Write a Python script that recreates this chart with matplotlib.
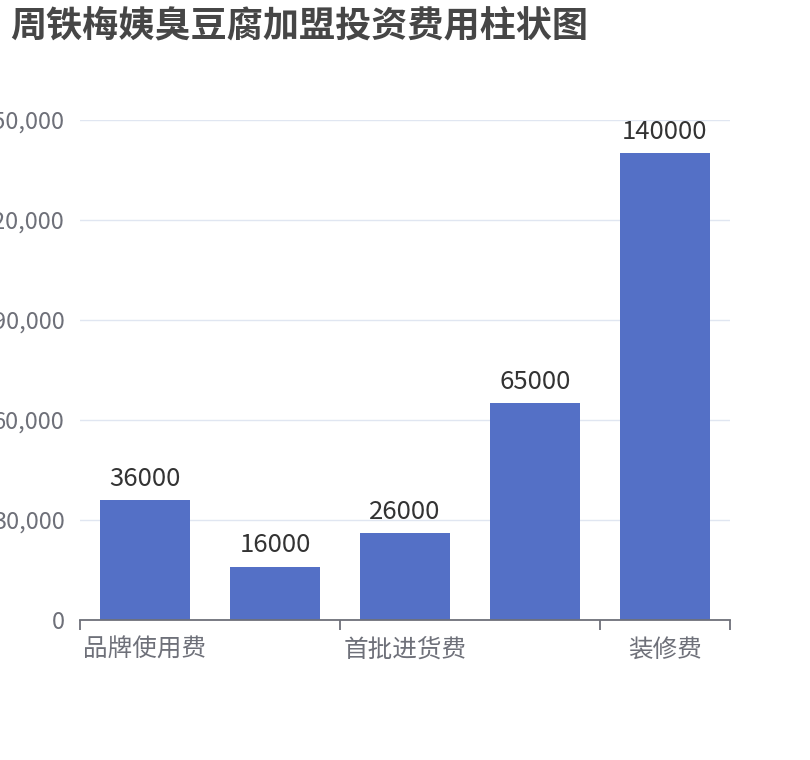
import matplotlib
matplotlib.use('Agg')
from matplotlib import pyplot as plt
from matplotlib.ticker import FuncFormatter, FixedLocator
import numpy as np

plt.rcParams['font.family'] = ['Noto Sans CJK SC', 'DejaVu Sans']

TITLE = '周铁梅姨臭豆腐加盟投资费用柱状图'
# only every other category label is visible in the chart
tick_labels = ['品牌使用费', '', '首批进货费', '', '装修费']
values = [36000, 16000, 26000, 65000, 140000]
y_ticks = [0, 30000, 60000, 90000, 120000, 150000]

BAR = '#5470C6'
AXIS = '#6E7079'
GRID = '#E0E6F1'

fig = plt.figure(figsize=(8.1, 7.6), dpi=100)
ax = fig.add_axes([80 / 810, 1 - 620 / 760, 650 / 810, 500 / 760])

x = np.arange(len(values))
bars = ax.bar(x, values, width=0.69, color=BAR, zorder=3)

for xi, v in zip(x, values):
    ax.annotate(str(v), (xi, v), xytext=(0, 6), textcoords='offset points',
                ha='center', va='bottom', fontsize=18.5, color='#333333')

ax.set_xlim(-0.5, len(values) - 0.5)
ax.set_ylim(0, 150000)
ax.set_yticks(y_ticks)
ax.yaxis.set_major_formatter(FuncFormatter(lambda v, p: f'{int(v):,}'))
ax.grid(axis='y', color=GRID, linewidth=1, zorder=0)
ax.tick_params(axis='y', length=0, pad=11, labelsize=17, labelcolor=AXIS)

# category labels at bar centres, ticks only at some boundaries
ax.set_xticks(x)
ax.set_xticklabels(tick_labels)
ax.tick_params(axis='x', length=0, pad=12, labelsize=17.7, labelcolor=AXIS)
ax.xaxis.set_minor_locator(FixedLocator([-0.5, 1.5, 3.5, 4.5]))
ax.tick_params(axis='x', which='minor', length=7, width=1.3, color=AXIS, direction='out')

for s in ['top', 'right', 'left']:
    ax.spines[s].set_visible(False)
ax.spines['bottom'].set_color(AXIS)
ax.spines['bottom'].set_linewidth(1.3)
ax.spines['bottom'].set_zorder(4)

fig.text(10 / 810, 1 - 27 / 760, TITLE, fontsize=26, fontweight='bold',
         color='#464646', ha='left', va='center')

fig.savefig('out.png', dpi=100)
